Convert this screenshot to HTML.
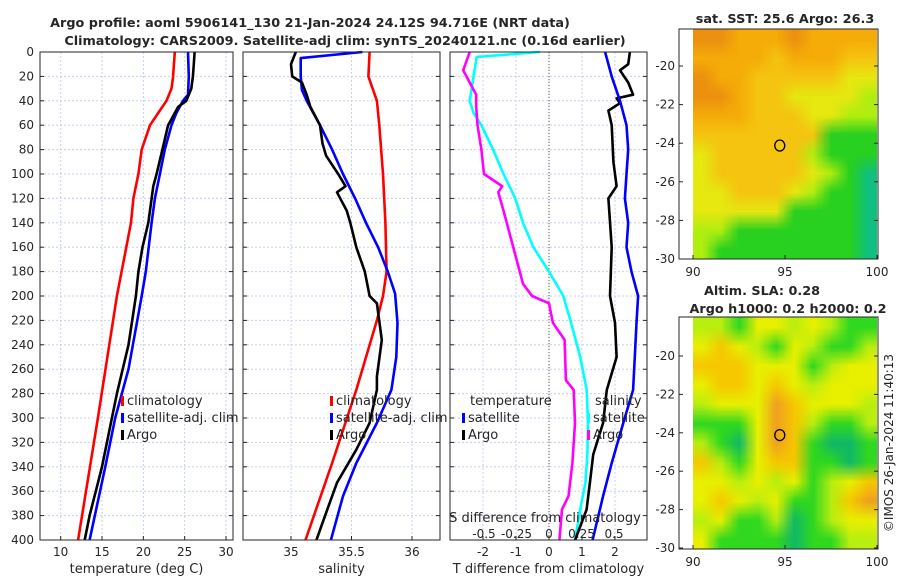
<!DOCTYPE html>
<html><head><meta charset="utf-8">
<style>
body{margin:0;background:#fff;width:900px;height:580px;overflow:hidden;font-family:"DejaVu Sans","Liberation Sans",sans-serif}
svg text{font-family:"DejaVu Sans","Liberation Sans",sans-serif;fill:#262626}
canvas{position:absolute}
</style></head><body>
<svg id="s" width="900" height="580" style="position:absolute;left:0;top:0"></svg>
<canvas id="m1" width="184" height="230" style="left:693px;top:29px"></canvas>
<canvas id="m2" width="184" height="232" style="left:693px;top:317px"></canvas>
<svg width="900" height="580" style="position:absolute;left:0;top:0" id="o"></svg>
<script>
// ---- data ----
const tTicks=[10,15,20,25,30];
const sTicks=[35,35.5,36];
const dTicks=[-2,-1,0,1,2];
const sdTicks=[-0.5,-0.25,0,0.25,0.5];
const sdLabels=["-0.5","-0.25","0","0.25","0.5"];
const zTicks=[0,20,40,60,80,100,120,140,160,180,200,220,240,260,280,300,320,340,360,380,400];
const tClimD=[0,20,30,40,50,60,80,100,120,140,200,300,400];
const tClim=[23.8,23.6,23.4,22.8,21.8,20.8,19.8,19.4,18.8,18.5,16.8,14.5,12.1];
const tSatD=[0,20,35,40,50,60,80,100,120,140,180,200,260,300,340,400];
const tSat=[25.4,25.5,25.4,24.8,24.0,23.4,22.6,22.0,21.4,21.0,20.3,19.8,18.2,16.6,15.4,13.5];
const tArgoD=[0,10,20,30,40,45,55,60,80,100,110,140,160,180,200,240,280,300,340,380,400];
const tArgo=[26.2,26.1,26.0,25.8,25.2,24.2,23.4,23.0,22.3,21.6,21.2,20.6,19.9,19.4,19.1,18.2,16.8,16.2,15.0,13.5,12.9];
const sClimD=[0,20,40,60,100,140,180,200,220,277,337,400];
const sClim=[35.65,35.64,35.71,35.73,35.76,35.78,35.79,35.76,35.71,35.54,35.34,35.12];
const sSatD=[0,5,20,31,40,60,80,100,120,140,160,180,198,222,250,277,304,337,364,400];
const sSat=[35.59,35.08,35.08,35.09,35.13,35.24,35.34,35.43,35.53,35.62,35.72,35.80,35.86,35.88,35.87,35.83,35.71,35.54,35.43,35.33];
const sArgoD=[0,10,20,25,35,45,60,75,85,100,110,115,130,140,160,180,190,200,206,236,266,277,304,326,353,375,400];
const sArgo=[35.04,35.0,35.01,35.09,35.13,35.16,35.24,35.26,35.29,35.39,35.45,35.38,35.46,35.49,35.54,35.61,35.63,35.65,35.71,35.75,35.71,35.71,35.65,35.54,35.38,35.30,35.21];
const dTSatD=[0,20,40,60,80,100,120,140,160,180,200,222,250,277,304,337,364,400];
const dTSat=[1.7,1.9,2.15,2.35,2.4,2.35,2.3,2.4,2.35,2.5,2.7,2.65,2.6,2.55,2.25,1.9,1.64,1.32];
const dTArgoD=[0,10,15,25,35,38,42,48,60,90,110,120,160,200,222,250,277,304,330,353,375,400];
const dTArgo=[2.45,2.4,2.15,2.4,2.55,2.05,2.15,1.8,1.9,1.95,2.05,1.8,1.9,1.85,2.0,2.05,1.75,1.64,1.34,1.24,1.14,0.79];
const dSSatD=[0,4,20,40,50,60,80,100,120,140,160,180,200,222,250,277,304,330,353,375,400];
const dSSat=[-0.07,-0.556,-0.58,-0.61,-0.58,-0.52,-0.43,-0.35,-0.26,-0.2,-0.12,0.0,0.11,0.17,0.24,0.29,0.30,0.295,0.28,0.24,0.2];
const dSArgoD=[0,15,25,35,45,60,80,100,110,115,130,150,170,190,200,206,222,236,269,277,304,337,364,375,400];
const dSArgo=[-0.61,-0.66,-0.61,-0.56,-0.56,-0.55,-0.52,-0.5,-0.36,-0.39,-0.35,-0.3,-0.25,-0.2,-0.13,0.0,0.03,0.12,0.13,0.19,0.2,0.18,0.15,0.1,0.08];
const lonTicks=[90,95,100];
const latTicks=[-20,-22,-24,-26,-28,-30];
// ---- scales ----
const Y0=52,Y1=540;
const y=d=>Y0+d*(Y1-Y0)/400;
const xT=v=>60.7+(v-10)*8.265;
const xS=v=>291+(v-35)*121;
const xD=v=>549+v*33;
const xSD=v=>549+v*130;
const NS="http://www.w3.org/2000/svg";
const S=document.getElementById('s');
function el(t,a,p,txt){const e=document.createElementNS(NS,t);for(const k in a)e.setAttribute(k,a[k]);if(txt!==undefined)e.textContent=txt;(p||S).appendChild(e);return e;}
const panels=[{x0:40,x1:233,f:xT,ticks:tTicks,lab:"temperature (deg C)",n:"temperature"},
{x0:243,x1:440,f:xS,ticks:sTicks,lab:"salinity",n:"salinity"},
{x0:450,x1:647,f:xD,ticks:dTicks,lab:"T difference from climatology",n:"difference"}];
panels.forEach((p,i)=>{
  const g=el('g',{});
  
  
  p.ticks.forEach(t=>{const X=p.f(t);
    el('line',{x1:X,x2:X,y1:Y0,y2:Y1,stroke:'#c8cff0','stroke-width':1,'stroke-dasharray':'2,2'},g);
    el('line',{x1:X,x2:X,y1:Y1,y2:Y1-4,stroke:'#262626'},g);
    const tx=el('text',{x:X,y:556,'font-size':12,'text-anchor':'middle'},g,String(t));
    });
  zTicks.forEach(z=>{const Y=y(z);
    el('line',{x1:p.x0,x2:p.x1,y1:Y,y2:Y,stroke:'#c8cff0','stroke-dasharray':'2,2'},g);
    el('line',{x1:p.x0,x2:p.x0+4,y1:Y,y2:Y,stroke:'#262626'},g);
    el('line',{x1:p.x1,x2:p.x1-4,y1:Y,y2:Y,stroke:'#262626'},g);
    if(i==0){const tx=el('text',{x:34,y:Y+4,'font-size':12,'text-anchor':'end'},g,String(z));
      }});
  const at=el('text',{x:(p.x0+p.x1)/2,y:573,'font-size':13,'text-anchor':'middle'},g,p.lab);
  
});
el('line',{x1:xD(0),x2:xD(0),y1:Y0,y2:Y1,stroke:'#5a6030','stroke-dasharray':'1,2'});
function line(ds,vs,fx,col,name){
  const pts=ds.map((d,k)=>fx(vs[k]).toFixed(1)+','+y(d).toFixed(1)).join(' ');
  const e=el('polyline',{points:pts,fill:'none',stroke:col,'stroke-width':2.6,'stroke-linejoin':'round'});
  }
line(tClimD,tClim,xT,'#ff0000','temp-climatology-line');
line(tSatD,tSat,xT,'#0000ff','temp-satellite-line');
line(tArgoD,tArgo,xT,'#000','temp-argo-line');
line(sClimD,sClim,xS,'#ff0000','sal-climatology-line');
line(sSatD,sSat,xS,'#0000ff','sal-satellite-line');
line(sArgoD,sArgo,xS,'#000','sal-argo-line');
line(dSSatD,dSSat,xSD,'#00ffff','sdiff-satellite-line');
line(dSArgoD,dSArgo,xSD,'#ff00ff','sdiff-argo-line');
line(dTArgoD,dTArgo,xD,'#000','tdiff-argo-line');
line(dTSatD,dTSat,xD,'#0000ff','tdiff-satellite-line');
panels.forEach(p=>{const r=el('rect',{x:p.x0,y:Y0,width:p.x1-p.x0,height:Y1-Y0,fill:'none',stroke:'#262626'});
  });
el('text',{x:545,y:522,'font-size':13,'text-anchor':'middle'},S,'S difference from climatology');
sdTicks.forEach((v,k)=>el('text',{x:xSD(v),y:538,'font-size':12,'text-anchor':'middle'},S,sdLabels[k]));
function leg(x,yy,col,txt,name){el('rect',{x:x,y:yy-9,width:3,height:10,fill:col});
  const t=el('text',{x:x+6,y:yy,'font-size':13},S,txt);
  }
leg(121,405,'#ff0000','climatology','legend-climatology');
leg(121,422,'#0000ff','satellite-adj. clim','legend-satellite');
leg(121,439,'#000','Argo','legend-argo');
leg(330,405,'#ff0000','climatology','legend-climatology');
leg(330,422,'#0000ff','satellite-adj. clim','legend-satellite');
leg(330,439,'#000','Argo','legend-argo');
el('text',{x:470,y:405,'font-size':13},S,'temperature');
leg(462,422,'#0000ff','satellite','legend-t-satellite');
leg(462,439,'#000','Argo','legend-t-argo');
el('text',{x:595,y:405,'font-size':13},S,'salinity');
leg(587,422,'#00ffff','satellite','legend-s-satellite');
leg(587,439,'#ff00ff','Argo','legend-s-argo');
const t1=el('text',{x:310,y:27,'font-size':12.8,'font-weight':'bold','text-anchor':'middle',fill:'#000'},S,'Argo profile: aoml 5906141_130 21-Jan-2024 24.12S 94.716E (NRT data)');

const t2=el('text',{x:345,y:45,'font-size':12.8,'font-weight':'bold','text-anchor':'middle'},S,'Climatology: CARS2009. Satellite-adj clim: synTS_20240121.nc (0.16d earlier)');

el('text',{x:785,y:23,'font-size':12.8,'font-weight':'bold','text-anchor':'middle'},S,'sat. SST: 25.6 Argo: 26.3');
el('text',{x:762,y:295,'font-size':12.8,'font-weight':'bold','text-anchor':'middle'},S,'Altim. SLA: 0.28');
el('text',{x:788,y:313,'font-size':12.8,'font-weight':'bold','text-anchor':'middle'},S,'Argo h1000: 0.2 h2000: 0.2');
const cr=el('text',{x:0,y:0,'font-size':12,'text-anchor':'middle',transform:'translate(893,443) rotate(-90)'},S,'©IMOS 26-Jan-2024 11:40:13');

// ---- maps ----
const pal1=['#ec9010','#f5ac08','#f5c410','#e6e810','#b0ee10','#28d020','#10c080'];
const grid1=[[0,0,1,1,1,0,1,1,1,1],[1,1,1,1,2,1,1,1,2,2],[0,1,1,2,2,2,2,2,3,3],[0,0,1,2,2,3,3,3,3,4],[1,1,1,2,2,2,3,3,4,4],[2,2,2,2,2,2,2,5,5,5],[3,2,2,2,2,2,4,5,5,5],[3,2,2,2,2,2,3,4,5,6],[3,3,2,2,2,3,4,5,5,6],[3,3,3,3,3,5,5,5,5,6],[4,4,5,5,5,5,5,5,5,6],[4,5,5,5,5,5,5,5,5,6]];
const pal2=['#f0a020','#f0a020','#f6c800','#e8f000','#b8ee10','#30d820','#10b868'];
const grid2=[[4,4,5,3,3,4,3,4,5,5],[3,2,3,4,5,3,4,5,5,4],[2,2,2,3,3,3,5,4,3,3],[3,2,2,3,2,3,4,3,3,3],[4,3,3,3,1,2,3,3,3,4],[5,5,5,3,1,2,4,5,5,4],[4,5,6,3,1,2,5,6,6,5],[2,4,5,3,2,2,5,5,6,5],[3,3,4,3,4,3,5,4,3,2],[3,2,3,4,3,5,5,4,2,1],[4,3,5,5,4,6,5,4,3,3],[3,5,5,5,5,6,5,5,4,4]];
function drawMap(id,grid,pal){const c=document.getElementById(id),ctx=c.getContext('2d');
  const sm=document.createElement('canvas');sm.width=grid[0].length;sm.height=grid.length;const sc=sm.getContext('2d');
  grid.forEach((r,j)=>r.forEach((v,i)=>{sc.fillStyle=pal[v];sc.fillRect(i,j,1,1);}));
  ctx.imageSmoothingEnabled=true;ctx.drawImage(sm,0,0,c.width,c.height);}
drawMap('m1',grid1,pal1);drawMap('m2',grid2,pal2);
const O=document.getElementById('o');
const lonX=v=>693+(v-90)*18.4;
[[29,259,66,19.3],[317,549,356,19.2]].forEach(([top,bot,y20,k])=>{
  const f=el('rect',{x:679,y:top,width:199,height:bot-top,fill:'none',stroke:'#262626'},O);
  
  lonTicks.forEach(v=>{el('line',{x1:lonX(v),x2:lonX(v),y1:bot,y2:bot-4,stroke:'#262626'},O);
    el('text',{x:lonX(v),y:bot+17,'font-size':12,'text-anchor':'middle'},O,String(v));});
  latTicks.forEach(v=>{const Y=y20+(-20-v)*k;
    el('line',{x1:679,x2:683,y1:Y,y2:Y,stroke:'#262626'},O);
    el('line',{x1:878,x2:874,y1:Y,y2:Y,stroke:'#262626'},O);
    el('text',{x:675,y:Y+4,'font-size':12,'text-anchor':'end'},O,String(v));});
  const cy=y20+4.12*k;
  const c=el('ellipse',{cx:lonX(94.716),cy:cy,rx:5,ry:5.5,fill:'none',stroke:'#000','stroke-width':1.3},O);
  
});
</script>
</body></html>
